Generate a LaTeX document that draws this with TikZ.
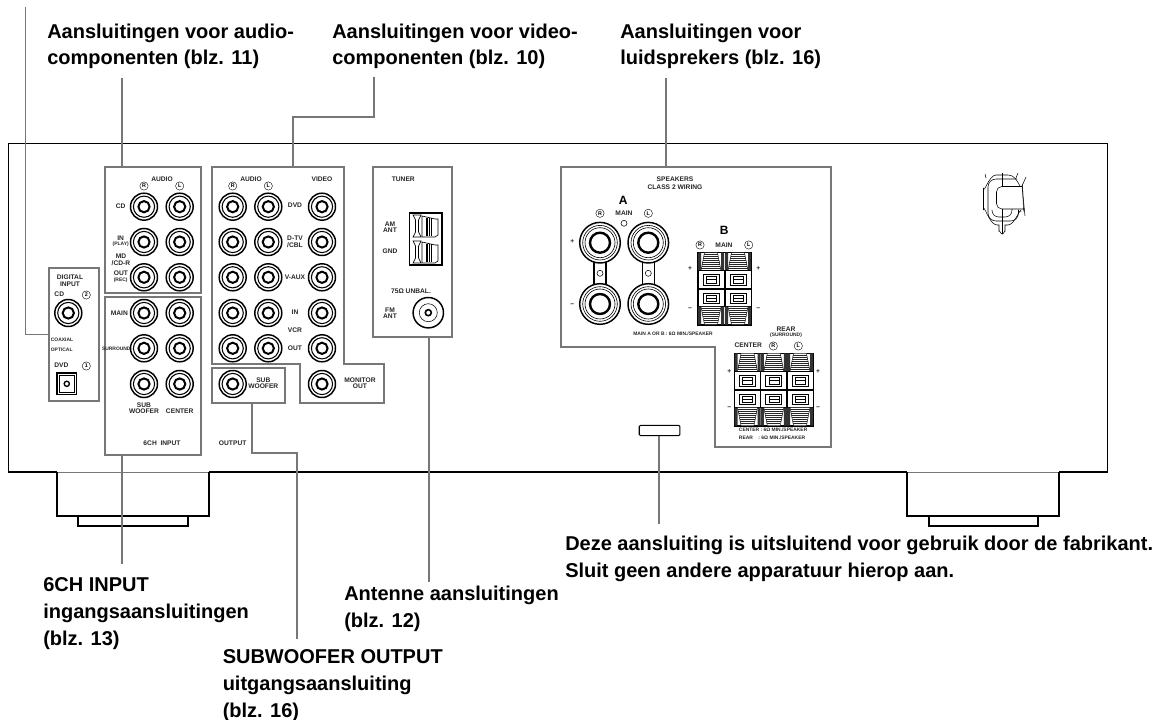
\documentclass[tikz,border=0pt]{standalone}
\usepackage{fontspec}
\setmainfont{Liberation Sans}
\usetikzlibrary{calc}
\newcount\lc
\newcommand\lb[4][sm]{\global\advance\lc by 1\relax\node[#1] (t\the\lc) at (#2,#3) {#4};}
\newcommand\ci[3]{\global\advance\lc by 1\relax\node[cir] (t\the\lc) at (#1,#2) {#3};}
\definecolor{lead}{HTML}{777777}
\tikzset{
 body/.style={line width=1.1pt,black},
 foot/.style={line width=0.95pt,black},
 panel/.style={draw=lead,line width=1.5pt,rectangle,inner sep=0pt},
 leader/.style={draw=lead,line width=1.3pt},
 sm/.style={inner sep=0pt,font=\bfseries\fontsize{5}{6}\selectfont,text=black!85},
 xs/.style={inner sep=0pt,font=\bfseries\fontsize{3.7}{4.5}\selectfont,text=black!85},
 bigA/.style={inner sep=0pt,font=\bfseries\fontsize{9}{10}\selectfont},
 cir/.style={circle,draw,line width=0.3pt,inner sep=0pt,minimum size=6.2pt,font=\bfseries\fontsize{4}{5}\selectfont},
 captxt/.style={inner sep=0pt,anchor=base west,align=left,font=\bfseries\fontsize{15}{20.1}\selectfont},
 rca/.pic={
  \draw[line width=1.1pt] (0,0) circle[radius=13.5];
  \draw[line width=0.8pt] (0,0) circle[radius=10.6];
  \draw[line width=1.5pt] (0,0) circle[radius=5.6];
 },
 bpost/.pic={
  \draw[line width=1.1pt,fill=white] (0,0) circle[radius=20.3];
  \draw[line width=0.45pt] (0,0) circle[radius=17.3];
  \draw[line width=0.45pt] (0,0) circle[radius=15];
  \draw[line width=1.8pt] (0,0) circle[radius=10];
 },
 spk/.pic={
  \fill[black!80] (-13,0) rectangle (-10,18) (10,0) rectangle (13,18);
  \draw[line width=0.35pt,fill=white] (-6.5,0) -- (6.5,0) -- (10,18) -- (-10,18) -- cycle;
  \foreach \i in {1,...,8} {\draw[line width=0.55pt,black!85] ({-6.5-\i*0.42},{\i*2}) -- ({6.5+\i*0.42},{\i*2});}
  \foreach \a/\b in {18/36,37/54} {
   \draw[line width=0.5pt,fill=white] (-13,\a) rectangle (13,\b);
   \draw[line width=0.6pt] (-8,\a+3.5) rectangle (8,\b-3.5);
   \draw[line width=0.4pt] (-5,\a+5.5) rectangle (5,\b-5.5);
   \draw[line width=0.4pt] (-5,{(\a+\b)/2}) -- (5,{(\a+\b)/2});
  }
  \fill[black!80] (-13,54) rectangle (-10,72) (10,54) rectangle (13,72);
  \draw[line width=0.35pt,fill=white] (-10,54) -- (10,54) -- (6.5,72) -- (-6.5,72) -- cycle;
  \foreach \i in {1,...,8} {\draw[line width=0.55pt,black!85] ({-10+\i*0.42},{54+\i*2}) -- ({10-\i*0.42},{54+\i*2});}
 },
 amt/.pic={
  \draw[line width=0.5pt,fill=white] (-13,-11) -- (-5,-11) -- (-7.5,-6) -- (-7.5,6) -- (-5,11) -- (-13,11) -- (-10.5,6) -- (-10.5,-6) -- cycle;
  \draw[line width=0.5pt,fill=white] (-4,-10) -- (9,-7) -- (12,-7) -- (12,9) -- (9,11) -- (-4,11) -- cycle;
  \foreach \i in {0,1.6,3.2,4.8} {\draw[line width=0.4pt] (\i,-8) -- (\i,10);}
 }
}
\begin{document}
\begin{tikzpicture}[x=0.75pt,y=-0.75pt]
\useasboundingbox (0,0) rectangle (1164,720);
\fill[white] (0,0) rectangle (1164,720);
\draw[body] (57,472) -- (8.5,472) -- (8.5,143.5) -- (1107.5,143.5) -- (1107.5,472) -- (1059,472);
\draw[body] (209,472) -- (907,472);
\draw[lead,line width=0.6pt] (57,472) -- (209,472) (907,472) -- (1059,472);
\draw[foot] (57,472) -- (57,516) -- (78,516) -- (78,526) -- (188,526) -- (188,516) -- (209,516) -- (209,472);
\draw[foot] (78,516) -- (188,516);
\draw[foot] (907,472) -- (907,516) -- (929,516) -- (929,526) -- (1038,526) -- (1038,516) -- (1059,516) -- (1059,472);
\draw[foot] (929,516) -- (1038,516);
\node[panel,minimum width=71.8pt,minimum height=94pt] (audio) at (152.9,230) {};
\node[panel,minimum width=71.8pt,minimum height=118.5pt] (sixch) at (152.9,376.3) {};
\node[panel,minimum width=37.5pt,minimum height=100.2pt] (digital) at (73.7,334.5) {};
\node[panel,minimum width=55pt,minimum height=26.5pt] (sub) at (248.2,385.7) {};
\node[panel,minimum width=59pt,minimum height=128.2pt] (tuner) at (412.7,252) {};
\coordinate (vt) at (293,167.3);
\coordinate (st) at (665.7,167.3);
\draw[draw=lead,line width=1.5pt] (212,167.3) -- (344,167.3) -- (344,364.3) -- (384.3,364.3) -- (384.3,403.3) -- (300,403.3) -- (300,364.3) -- (212,364.3) -- cycle;
\draw[draw=lead,line width=1.5pt] (560.7,167.3) -- (830.7,167.3) -- (830.7,446.7) -- (714.7,446.7) -- (714.7,346.7) -- (560.7,346.7) -- cycle;
\node[draw,line width=0.8pt,rounded corners=1pt,minimum width=30.5pt,minimum height=7.8pt,inner sep=0pt] (slot) at (659.6,430.5) {};
\foreach \x in {144,179.7} \foreach \y in {206.7,242,277.3,313,348.3,384} {\pic at (\x,\y) {rca};}
\foreach \x in {232.7,268.3,322} \foreach \y in {206.7,242,277.3,313,348.3} {\pic at (\x,\y) {rca};}
\pic at (322,384) {rca};
\pic at (232.7,384) {rca};
\pic at (68.3,313) {rca};
\draw[line width=1pt,fill=white] (57,373) rectangle (76.7,394.5);
\draw[line width=0.5pt] (59.5,375.5) rectangle (74.2,392);
\draw[line width=1pt] (66.8,383.8) circle[radius=2.6];
\lb{162}{179.3}{AUDIO}
\ci{144}{186}{R} \ci{179.7}{186}{L}
\lb{120.7}{206}{CD}
\lb{120.7}{238.7}{IN}
\lb[xs]{120.7}{244.7}{(PLAY)}
\lb{121}{256.7}{MD}
\lb{121}{262.7}{/CD-R}
\lb{121}{273.7}{OUT}
\lb[xs]{120.7}{280}{(REC)}
\lb{119.3}{313.7}{MAIN}
\lb[xs]{116.3}{348.7}{SURROUND}
\lb{144}{405.7}{SUB}
\lb{144}{411.7}{WOOFER}
\lb{179.7}{411.7}{CENTER}
\lb{162}{443.3}{6CH\ \ INPUT}
\lb{232.7}{443.3}{OUTPUT}
\lb{70}{277.3}{DIGITAL}
\lb{70}{284.3}{INPUT}
\lb{59.3}{294.7}{CD}
\ci{86.3}{295}{2}
\lb[xs]{62}{339.7}{COAXIAL}
\lb[xs]{61.7}{349.7}{OPTICAL}
\lb{61.3}{365.7}{DVD}
\ci{86.3}{366}{1}
\lb{251}{179.3}{AUDIO}
\ci{232.7}{186}{R} \ci{268.3}{186}{L}
\lb{322}{179.3}{VIDEO}
\lb{295}{205.7}{DVD}
\lb{295}{238.7}{D-TV}
\lb{295}{244.7}{/CBL}
\lb{295}{277.7}{V-AUX}
\lb{295}{312.7}{IN}
\lb{295}{330.7}{VCR}
\lb{295}{348.3}{OUT}
\lb{360}{380.7}{MONITOR}
\lb{360}{386.7}{OUT}
\lb{263.3}{380.7}{SUB}
\lb{263.3}{386.7}{WOOFER}
\lb{403.3}{179.3}{TUNER}
\lb{390}{224}{AM}
\lb{390}{230.7}{ANT}
\lb{390}{251.7}{GND}
\lb{411}{291.7}{75Ω UNBAL.}
\lb{390}{310}{FM}
\lb{390}{316.7}{ANT}
\draw[line width=1.3pt,fill=white] (409.5,213) rectangle (442.3,265.3);
\pic at (426,226) {amt};
\pic at (426,252) {amt};
\draw[line width=1.1pt] (428.3,312.7) circle[radius=15.2];
\draw[line width=0.4pt] (428.3,312.7) circle[radius=9];
\draw[line width=1.2pt] (428.3,312.7) circle[radius=3];
\lb{675}{179.3}{SPEAKERS}
\lb[sm]{675}{187.7}{CLASS 2 WIRING}
\lb[bigA]{623.3}{200}{A}
\ci{600}{213.3}{R} \ci{648.3}{213.3}{L}
\lb{624}{213.3}{MAIN}
\draw[line width=0.4pt] (624,223.3) circle[radius=3];
\foreach \x in {600,648.3} {
 \draw[line width=0.8pt,fill=white] (\x-6,255) rectangle (\x+6,295);
 \pic at (\x,242.7) {bpost};
 \pic at (\x,304) {bpost};
 \draw[line width=0.4pt,fill=white] (\x,273.3) circle[radius=3];
}
\lb{572.3}{241.7}{+}
\lb{572.3}{305}{\textminus}
\lb[bigA]{724.3}{230.7}{B}
\ci{700}{245}{R} \ci{748.7}{245}{L}
\lb{724}{245}{MAIN}
\draw[line width=0.9pt,fill=white] (697.3,252.7) rectangle (751.3,325);
\pic at (711,252.7) {spk};
\pic at (738,252.7) {spk};
\lb{690}{268.3}{+} \lb{758.3}{268.3}{+}
\lb{690}{309.3}{\textminus} \lb{758.3}{309.3}{\textminus}
\lb[xs]{673}{334}{MAIN A OR B :  6Ω MIN./SPEAKER}
\lb{786}{329.3}{REAR}
\lb[xs]{786}{335.3}{(SURROUND)}
\lb{748.3}{345.7}{CENTER}
\ci{773.3}{346}{R} \ci{798.3}{346}{L}
\draw[line width=0.9pt,fill=white] (734.3,353.3) rectangle (813.3,426);
\pic at (747.5,353.5) {spk};
\pic at (773.8,353.5) {spk};
\pic at (800,353.5) {spk};
\lb{729.3}{371.3}{+} \lb{818}{371.3}{+}
\lb{729.3}{408.7}{\textminus} \lb{818}{408.7}{\textminus}
\node[xs,anchor=west] (cn) at (738.7,430) {CENTER :  6Ω MIN./SPEAKER};
\node[xs,anchor=west] (rn) at (738.7,437.3) {REAR\ \ \ \ :  6Ω MIN./SPEAKER};
\draw[line width=0.4pt] (983.5,210) -- (983.5,188) to[out=-90,in=180] (996,175) -- (1008,175) to[out=0,in=120] (1020,186);
\draw[line width=0.4pt] (983.5,210) to[out=90,in=180] (997,225) -- (999,225) -- (999,231) to[out=90,in=180] (1002.3,234) to[out=0,in=90] (1005,231) -- (1005,225) -- (1008,225) to[out=0,in=90] (1021,212);
\draw[line width=0.4pt,rounded corners=6pt] (1018.5,210) -- (1018.5,221) -- (988,221) -- (988,179) -- (1017,179);
\draw[line width=0.4pt,rounded corners=5pt] (992,210) -- (992,217) -- (1012,217) -- (1012,207);
\draw[line width=0.4pt,fill=white,rounded corners=4pt] (1022,186.5) -- (996.5,186.5) -- (996.5,209) -- (1024,209);
\draw[line width=0.4pt] (1022,186.5) to[out=85,in=-95] (1024,209);
\draw[line width=0.4pt] (1002.3,173) -- (1002.3,186.5) (1002.3,209) -- (1002.3,234);
\draw[line width=0.4pt] (1025,216) -- (1022,186) -- (1026,177);
\draw[line width=0.4pt] (986,178) -- (985,174) (1016,178) -- (1018,173);
\node[captxt] (c1) at (47,65) {Aansluitingen voor audio-\\componenten (blz. 11)};
\node[captxt] (c2) at (332,65) {Aansluitingen voor video-\\componenten (blz. 10)};
\node[captxt] (c3) at (620,65) {Aansluitingen voor\\luidsprekers (blz. 16)};
\node[captxt] (c4) at (43,645) {6CH INPUT\\ingangsaansluitingen\\(blz. 13)};
\node[captxt] (c5) at (344,627) {Antenne aansluitingen\\(blz. 12)};
\node[captxt] (c6) at (222.5,717) {SUBWOOFER OUTPUT\\uitgangsaansluiting\\(blz. 16)};
\node[captxt] (c7) at (565,577.5) {Deze aansluiting is uitsluitend voor gebruik door de fabrikant.\\Sluit geen andere apparatuur hierop aan.};
\coordinate (l0) at (25.6,7);
\coordinate (l1) at (121.7,78);
\coordinate (l2) at (374,77);
\coordinate (l3) at (665.7,78);
\coordinate (l4) at (121.7,564);
\coordinate (l5) at (297.3,639);
\coordinate (l6) at (429.3,581.7);
\coordinate (l7) at (659,524);
\draw[leader] (l0) |- (digital.west);
\draw[leader] (l1) -- (l1 |- audio.north);
\draw[leader] (l2) -- (374,117) -- (293,117) -- (vt);
\draw[leader] (l3) -- (st);
\draw[leader] (sixch.south -| l4) -- (l4);
\draw[leader] (sub.south -| 252,0) -- (252,452.7) -- (297.3,452.7) -- (l5);
\draw[leader] (tuner.south -| l6) -- (l6);
\draw[leader] (slot.south -| l7) -- (l7);
\end{tikzpicture}
\end{document}
